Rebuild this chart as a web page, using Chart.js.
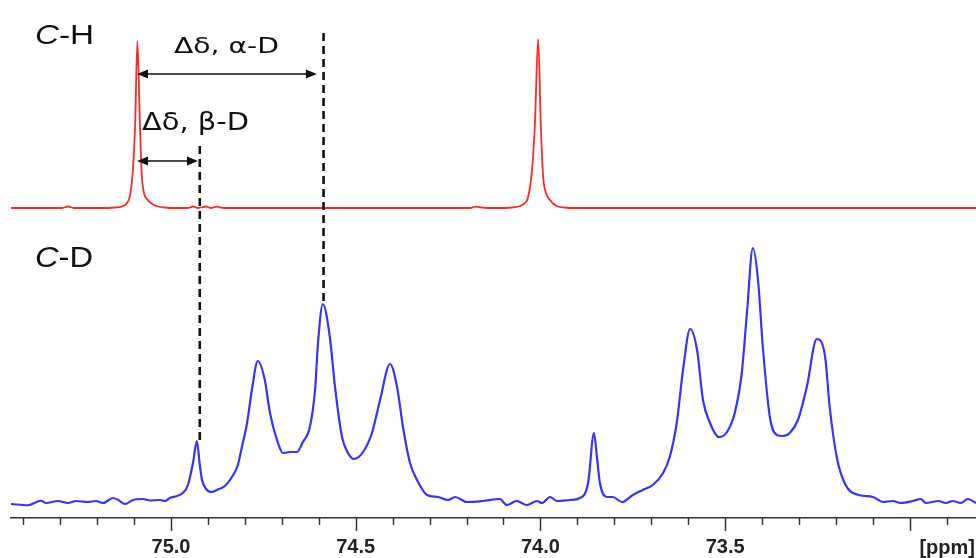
<!DOCTYPE html>
<html><head><meta charset="utf-8">
<script src="https://cdn.jsdelivr.net/npm/chart.js@4/dist/chart.umd.min.js"></script>
<style>html,body{margin:0;padding:0;background:#fff;} #wrap{width:976px;height:558px;position:relative;}</style>
</head><body><div id="wrap"><canvas id="c"></canvas></div>
<script>
// ---- data (chemical shift in ppm, intensity in arbitrary units) ----
const bluePpm = [75.433,75.387,75.352,75.338,75.306,75.279,75.257,75.225,75.203,75.184,
75.157,75.143,75.124,75.103,75.076,75.057,75.030,75.016,75.003,74.984,
74.968,74.954,74.940,74.930,74.922,74.916,74.905,74.889,74.876,74.854,
74.835,74.819,74.808,74.794,74.781,74.765,74.746,74.732,74.713,74.697,
74.678,74.659,74.643,74.624,74.610,74.602,74.589,74.570,74.556,74.537,
74.521,74.505,74.480,74.456,74.434,74.407,74.388,74.372,74.353,74.334,
74.307,74.277,74.250,74.231,74.199,74.156,74.110,74.091,74.064,74.037,
74.009,73.996,73.974,73.955,73.920,73.893,73.871,73.855,73.847,73.839,
73.820,73.804,73.779,73.750,73.723,73.696,73.668,73.650,73.631,73.614,
73.595,73.576,73.560,73.541,73.517,73.495,73.474,73.455,73.441,73.425,
73.411,73.398,73.379,73.360,73.344,73.325,73.303,73.279,73.252,73.230,
73.217,73.198,73.174,73.138,73.100,73.073,73.046,73.025,72.992,72.970,
72.957,72.922,72.903,72.884,72.862,72.843,72.821];
const blueInt = [-1.6,-2.1,-0.3,-1.2,-0.4,-1.2,-0.4,-0.8,-0.4,-1.2,
0.8,0,-1.6,0,0.4,-0.2,0,-0.4,0.8,1.6,
2.8,6.0,15.2,23.6,14.0,8.0,4.4,3.2,4.0,5.6,
9.2,14.0,21.2,30.8,44.0,55.6,48.0,34.8,24.0,18.8,
19.2,19.2,23.2,29.2,44.0,62.8,78.4,65.2,45.2,25.2,
18.8,16.4,19.2,26.8,40.0,54.4,45.2,29.2,14.8,8.0,
2.0,1.2,0,1.2,-0.8,-0.4,0.4,-2.0,-0.4,-2.0,
-0.4,-1.2,1.2,-0.4,0,0.8,6.8,26.8,17.2,6.8,
1.2,1.2,-0.8,2.0,4.0,6.0,10.8,17.2,30.8,52.0,
68.4,60.0,40.0,30.8,25.2,27.2,34.8,50.8,74.8,100.8,
88.0,61.2,33.2,26.0,25.6,26.8,32.0,45.2,64.4,58.0,
37.2,17.2,6.0,2.0,1.2,-0.8,-0.4,-1.2,-0.4,0.4,
-1.2,-0.4,-1.2,-0.4,-1.2,0.4,-1.2];

const redPpm = [75.433,75.355,75.295,75.279,75.263,75.192,75.152,75.133,75.119,75.111,
75.104,75.097,75.091,75.084,75.079,75.073,75.065,75.051,75.035,75.016,
74.989,74.954,74.940,74.927,74.905,74.892,74.876,74.857,74.651,74.380,
74.191,74.175,74.159,74.145,74.096,74.069,74.055,74.042,74.034,74.024,
74.015,74.006,73.999,73.993,73.985,73.974,73.964,73.953,73.934,73.907,
73.569,73.162,72.821];
const redInt = [0,0,0,0.9,0,0,0.3,0.9,3.0,7.2,
19.8,49.7,100,49.7,19.8,9.0,5.4,2.4,0.9,0.3,
0,0,0.9,0,0.9,0,0.8,0,0,0,
0,0.8,0.3,0,0,0.5,1.2,3.0,6.0,19.8,
49.7,101.2,49.7,19.8,9.0,4.8,2.4,0.9,0.3,0,
0,0,0];

// axis
const ppmRange = [72.821, 75.433];
const tickLabels = [75.0, 74.5, 74.0, 73.5];
const minorStep = 0.1;
const unitLabel = '[ppm]';

// annotation anchors (ppm / intensity)
const dLinePpm = [74.587, 74.922];        // alpha-D, beta-D shifted peaks
const dLineTopH = [104.8, 37.1];          // top of dashed line (C-H intensity units)
const dLineBottomD = [78.4, 23.6];        // bottom of dashed line (C-D intensity units)
const arrowFromPpm = 75.092;              // C-H peak
const arrowToPpm = [74.605, 74.927];
const arrowLevelH = [80.2, 28.1];
const arrowLabels = ['Δδ, α-D', 'Δδ, β-D'];
const traceLabels = [['C', '-H'], ['C', '-D']];

const FONT = '"Liberation Sans", Arial, sans-serif';
const LFONT = '"DejaVu Sans", Verdana, sans-serif';

function drawStretched(ctx, parts, x, y, size, targetW, fam) {
  let natural = 0;
  parts.forEach(p => { ctx.font = (p.italic ? 'italic ' : '') + size + 'px ' + fam; natural += ctx.measureText(p.t).width; });
  const s = targetW / natural;
  ctx.save();
  ctx.translate(x, y);
  ctx.scale(s, 1);
  let cx = 0;
  ctx.textAlign = 'left';
  ctx.textBaseline = 'alphabetic';
  parts.forEach(p => { ctx.font = (p.italic ? 'italic ' : '') + size + 'px ' + fam; ctx.fillText(p.t, cx, 0); cx += ctx.measureText(p.t).width; });
  ctx.restore();
}

function arrowHead(ctx, x, y, dir) {
  ctx.beginPath();
  ctx.moveTo(x, y);
  ctx.lineTo(x - dir * 11, y - 4.5);
  ctx.lineTo(x - dir * 11, y + 4.5);
  ctx.closePath();
  ctx.fill();
}

const tickPlugin = {
  id: 'ppmTicks',
  afterDraw(chart) {
    const sx = chart.scales.x, ctx = chart.ctx;
    ctx.save();
    ctx.strokeStyle = '#333';
    ctx.lineWidth = 1.5;
    sx.ticks.forEach(t => {
      const v = t.value;
      if (v < sx.min - 1e-9 || v > sx.max + 1e-9) return;
      const major = Math.abs(v * 2 - Math.round(v * 2)) < 1e-6;
      const px = Math.round(sx.getPixelForValue(v)) + 0.5;
      ctx.beginPath();
      ctx.moveTo(px, sx.top);
      ctx.lineTo(px, sx.top + (major ? 13 : 7));
      ctx.stroke();
    });
    ctx.fillStyle = '#222';
    ctx.font = 'bold 20px ' + FONT;
    ctx.textAlign = 'right';
    ctx.textBaseline = 'alphabetic';
    ctx.fillText(unitLabel, chart.width - 1, 554);
    ctx.restore();
  }
};

const annotPlugin = {
  id: 'annot',
  afterDatasetsDraw(chart) {
    const ctx = chart.ctx, sx = chart.scales.x, yH = chart.scales.yH, yD = chart.scales.yD;
    ctx.save();
    ctx.strokeStyle = '#111';
    ctx.lineWidth = 2.6;
    ctx.setLineDash([8, 5]);
    dLinePpm.forEach((p, i) => {
      const x = sx.getPixelForValue(p);
      ctx.beginPath();
      ctx.moveTo(x, yH.getPixelForValue(dLineTopH[i]));
      ctx.lineTo(x, yD.getPixelForValue(dLineBottomD[i]));
      ctx.stroke();
    });
    ctx.setLineDash([]);
    ctx.lineWidth = 1.4;
    ctx.fillStyle = '#111';
    arrowToPpm.forEach((p, i) => {
      const x1 = sx.getPixelForValue(arrowFromPpm), x2 = sx.getPixelForValue(p);
      const y = yH.getPixelForValue(arrowLevelH[i]);
      ctx.beginPath();
      ctx.moveTo(x1 + 6, y);
      ctx.lineTo(x2 - 6, y);
      ctx.stroke();
      arrowHead(ctx, x1, y, -1);
      arrowHead(ctx, x2, y, 1);
    });
    ctx.fillStyle = '#111';
    drawStretched(ctx, [{t: arrowLabels[0]}], 174, 52.5, 21, 105, LFONT);
    drawStretched(ctx, [{t: arrowLabels[1]}], 142, 130, 24, 107, LFONT);
    drawStretched(ctx, [{t: traceLabels[0][0], italic: true}, {t: traceLabels[0][1]}], 35, 43.5, 28, 59, FONT);
    drawStretched(ctx, [{t: traceLabels[1][0], italic: true}, {t: traceLabels[1][1]}], 35, 266.5, 29, 58, FONT);
    ctx.restore();
  }
};

new Chart(document.getElementById('c'), {
  type: 'line',
  data: {
    datasets: [
      {
        label: 'C-H',
        data: redPpm.map((p, i) => ({x: p, y: redInt[i]})),
        yAxisID: 'yH',
        borderColor: '#ff2b2b',
        borderWidth: 1.8,
        pointRadius: 0,
        cubicInterpolationMode: 'monotone',
        fill: false
      },
      {
        label: 'C-D',
        data: bluePpm.map((p, i) => ({x: p, y: blueInt[i]})),
        yAxisID: 'yD',
        borderColor: '#3434ff',
        borderWidth: 2.2,
        pointRadius: 0,
        cubicInterpolationMode: 'monotone',
        fill: false
      }
    ]
  },
  options: {
    responsive: true,
    maintainAspectRatio: false,
    animation: false,
    devicePixelRatio: 1,
    layout: {padding: {left: 11, right: 0, top: 0, bottom: 0}},
    plugins: {legend: {display: false}, tooltip: {enabled: false}},
    scales: {
      x: {
        type: 'linear',
        reverse: true,
        min: ppmRange[0],
        max: ppmRange[1],
        position: 'bottom',
        afterFit: s => { s.height = 40; },
        border: {display: true, color: '#333', width: 1.5},
        grid: {display: true, drawOnChartArea: false, drawTicks: true, tickLength: 13, color: 'rgba(0,0,0,0)'},
        ticks: {
          stepSize: minorStep,
          includeBounds: false,
          autoSkip: false,
          maxRotation: 0,
          minRotation: 0,
          padding: 4,
          color: '#222',
          font: {family: FONT, size: 20, weight: 'bold'},
          callback: v => {
            const hit = tickLabels.find(t => Math.abs(t - v) < 1e-6);
            return hit !== undefined ? hit.toFixed(1) : '';
          }
        }
      },
      yH: {type: 'linear', display: false, min: -185.63, max: 124.55},
      yD: {type: 'linear', display: false, min: -7.2, max: 200}
    }
  },
  plugins: [tickPlugin, annotPlugin]
});
</script></body></html>
